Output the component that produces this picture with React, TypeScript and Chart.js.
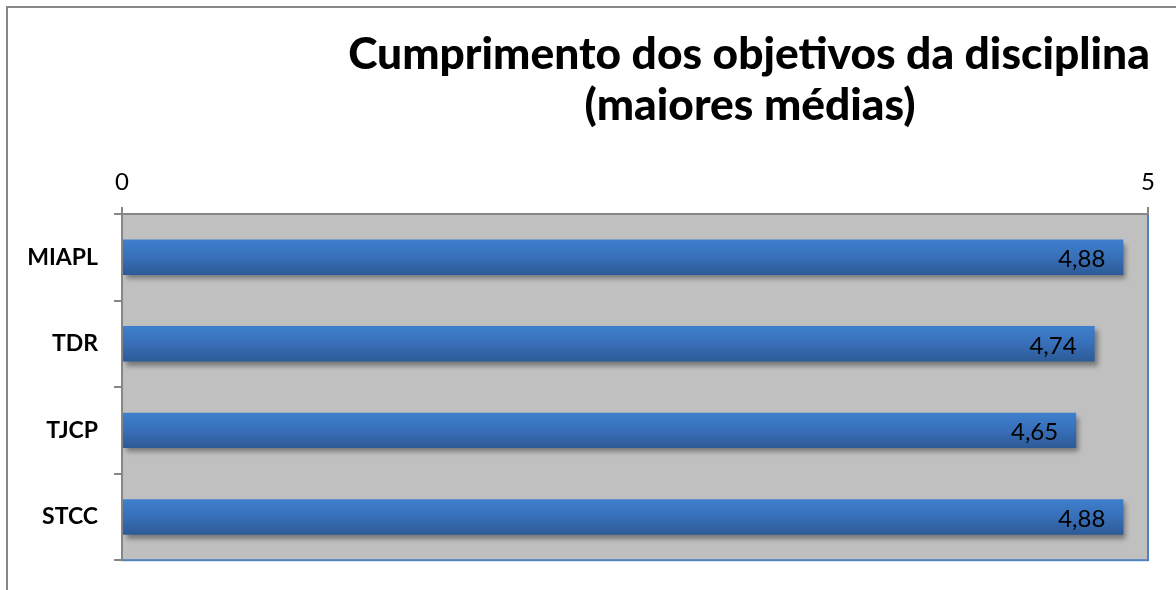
import React, { useEffect, useRef } from "react";
import { Chart, registerables } from "chart.js";

Chart.register(...registerables);

const categories = ["MIAPL", "TDR", "TJCP", "STCC"];
const values = [4.88, 4.74, 4.65, 4.88];
const titleLines = ["Cumprimento dos objetivos da disciplina", "(maiores médias)"];
const axisMin = 0;
const axisMax = 5;

const FONT = "Lato, 'Open Sans', sans-serif";

const fmt = (v: number) => v.toFixed(2).replace(".", ",");

const backgroundPlugin = {
  id: "plotBg",
  beforeDraw(chart: any) {
    const { ctx, chartArea: a } = chart;
    ctx.save();
    ctx.fillStyle = "#ffffff";
    ctx.fillRect(0, 0, chart.width, chart.height);
    ctx.fillStyle = "#C0C0C0";
    ctx.fillRect(a.left, a.top, a.right - a.left, a.bottom - a.top);
    ctx.strokeStyle = "#4F81BD";
    ctx.lineWidth = 2;
    ctx.strokeRect(a.left, a.top, a.right - a.left, a.bottom - a.top);
    ctx.restore();
  },
};

const shadowPlugin = {
  id: "barShadow",
  beforeDatasetsDraw(chart: any) {
    const ctx = chart.ctx;
    ctx.save();
    ctx.shadowColor = "rgba(0,0,0,0.38)";
    ctx.shadowBlur = 5;
    ctx.shadowOffsetX = 3;
    ctx.shadowOffsetY = 4;
  },
  afterDatasetsDraw(chart: any) {
    chart.ctx.restore();
  },
};

const decorPlugin = {
  id: "decor",
  afterDraw(chart: any) {
    const { ctx } = chart;
    ctx.save();
    // value labels
    const meta = chart.getDatasetMeta(0);
    ctx.font = `24px ${FONT}`;
    ctx.fillStyle = "#000000";
    ctx.textAlign = "right";
    ctx.textBaseline = "middle";
    meta.data.forEach((el: any, i: number) => {
      ctx.fillText(fmt(values[i]), el.x - 18, el.y + 2);
    });
    // title
    const targetW = 802;
    ctx.font = `900 100px ${FONT}`;
    const w100 = ctx.measureText(titleLines[0]).width;
    const size = Math.min(48, (100 * targetW) / w100);
    ctx.font = `900 ${size}px ${FONT}`;
    ctx.textAlign = "center";
    ctx.textBaseline = "alphabetic";
    ctx.fillText(titleLines[0], 749, 69);
    ctx.fillText(titleLines[1], 750, 120);
    // outer border
    ctx.strokeStyle = "#878787";
    ctx.lineWidth = 2;
    ctx.strokeRect(7, 7, 1300, 800);
    ctx.restore();
  },
};

export default function App() {
  const ref = useRef<HTMLCanvasElement | null>(null);
  useEffect(() => {
    if (!ref.current) return;
    const chart = new Chart(ref.current, {
      type: "bar",
      data: {
        labels: categories,
        datasets: [
          {
            data: values,
            categoryPercentage: 1,
            barPercentage: 0.41,
            backgroundColor: (c: any) => {
              const ch = c.chart;
              const y = ch.scales && ch.scales.y;
              if (!ch.chartArea || !y || c.dataIndex === undefined) return "#3A75C0";
              const yc = y.getPixelForValue(c.dataIndex);
              const g = ch.ctx.createLinearGradient(0, yc - 18, 0, yc + 18);
              g.addColorStop(0, "#3E80CE");
              g.addColorStop(0.5, "#386FB8");
              g.addColorStop(1, "#2C5A96");
              return g;
            },
            borderWidth: 0,
          },
        ],
      },
      options: {
        indexAxis: "y",
        animation: false,
        responsive: false,
        maintainAspectRatio: false,
        layout: { padding: { left: 0, top: 164, right: 28, bottom: 22 } },
        plugins: {
          legend: { display: false },
          title: { display: false },
          tooltip: { enabled: false },
        },
        scales: {
          x: {
            position: "top",
            min: axisMin,
            max: axisMax,
            afterFit: (s: any) => {
              s.height = 50;
            },
            ticks: {
              stepSize: 5,
              color: "#000000",
              font: { family: FONT, size: 24 },
              padding: 10,
              callback: (v: any) => String(v),
            },
            grid: {
              drawOnChartArea: false,
              drawTicks: true,
              tickLength: 7,
              color: "#868686",
              lineWidth: 2,
            },
            border: { display: true, color: "#868686", width: 2 },
          },
          y: {
            afterFit: (s: any) => {
              s.width = 122;
            },
            ticks: {
              color: "#000000",
              font: { family: FONT, size: 23, weight: "bold" },
              padding: 16,
            },
            grid: {
              offset: true,
              drawOnChartArea: false,
              drawTicks: true,
              tickLength: 8,
              color: "#868686",
              lineWidth: 2,
            },
            border: { display: true, color: "#868686", width: 2 },
          },
        },
      },
      plugins: [backgroundPlugin, shadowPlugin, decorPlugin],
    } as any);
    return () => chart.destroy();
  }, []);
  return (
    <div style={{ position: "fixed", left: 0, top: 0, width: 1176, height: 590, background: "#fff" }}>
      <canvas ref={ref} width={1176} height={590} style={{ display: "block" }} />
    </div>
  );
}
